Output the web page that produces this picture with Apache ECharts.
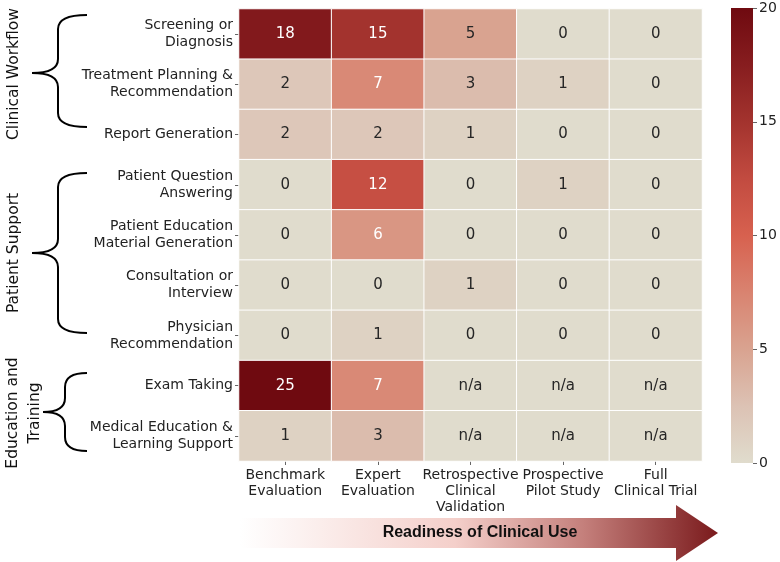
<!DOCTYPE html>
<html>
<head>
<meta charset="utf-8">
<script src="https://cdn.jsdelivr.net/npm/echarts@6/dist/echarts.min.js"></script>
<style>
  html, body { margin: 0; padding: 0; background: #fff; }
  #main { width: 780px; height: 562px; }
</style>
</head>
<body>
<div id="main"></div>
<script>
// rows top to bottom, columns left to right
var tasks = ['Screening or\nDiagnosis', 'Treatment Planning &\nRecommendation', 'Report Generation',
    'Patient Question\nAnswering', 'Patient Education\nMaterial Generation', 'Consultation or\nInterview',
    'Physician\nRecommendation', 'Exam Taking', 'Medical Education &\nLearning Support'];
var stages = ['Benchmark\nEvaluation', 'Expert\nEvaluation', 'Retrospective\nClinical\nValidation',
    'Prospective\nPilot Study', 'Full\nClinical Trial'];

// counts per stage (null = n/a)
var benchmark = [18, 2, 2, 0, 0, 0, 0, 25, 1];
var expert = [15, 7, 2, 12, 6, 0, 1, 7, 3];
var retrospective = [5, 3, 1, 0, 0, 1, 0, null, null];
var prospective = [0, 1, 0, 1, 0, 0, 0, null, null];
var fullTrial = [0, 0, 0, 0, 0, 0, 0, null, null];

var colorbarTicks = [0, 5, 10, 15, 20];

var columns = [benchmark, expert, retrospective, prospective, fullTrial];
var palette = ['#e0dccd', '#dcc2b4', '#d9a390', '#d98370', '#d7614f', '#c24b40', '#a3332e', '#871d1f', '#6f0a10'];

var cells = [];
columns.forEach(function (col, x) {
    col.forEach(function (v, y) {
        var item = { value: [x, y, v === null ? 0 : v], na: v === null };
        // white text on the darker cells
        if (v !== null && v > 5.5) item.label = { color: '#ffffff' };
        cells.push(item);
    });
});

var myChart = echarts.init(document.getElementById('main'));

// curly brace built from curves and lines
function brace(xa, xb, xt, y1, ym, y2) {
    var r = 14;
    var st = { stroke: '#000', lineWidth: 2, fill: null };
    function q(x1, yy1, cx, cy, x2, yy2) {
        return { type: 'bezierCurve', shape: { x1: x1, y1: yy1, cpx1: cx, cpy1: cy, x2: x2, y2: yy2 }, style: st };
    }
    function l(x1, yy1, x2, yy2) {
        return { type: 'line', shape: { x1: x1, y1: yy1, x2: x2, y2: yy2 }, style: st };
    }
    return {
        type: 'group',
        children: [
            q(xa, y1, xb, y1, xb, y1 + r),
            l(xb, y1 + r, xb, ym - r),
            q(xb, ym - r, xb, ym, xt, ym),
            q(xt, ym, xb, ym, xb, ym + r),
            l(xb, ym + r, xb, y2 - r),
            q(xb, y2 - r, xb, y2, xa, y2)
        ]
    };
}

function linear(x2, y2, stops) {
    return { type: 'linear', x: 0, y: 0, x2: x2, y2: y2, colorStops: stops };
}

var fontFam = 'DejaVu Sans';
var gradStops = [];
palette.forEach(function (c, i) {
    gradStops.push({ offset: 1 - i / (palette.length - 1), color: c });
});

var option = {
    backgroundColor: '#ffffff',
    animation: false,
    grid: [
        { left: 239, right: 78, top: 9, bottom: 101 },
        { left: 731, width: 22, top: 8, bottom: 99 }
    ],
    xAxis: [{
        type: 'category',
        data: stages,
        gridIndex: 0,
        axisLine: { show: false },
        axisTick: { show: true, alignWithLabel: true, length: 4, lineStyle: { color: '#666' } },
        axisLabel: { color: '#222', fontSize: 14, fontFamily: fontFam, lineHeight: 16, margin: 6, interval: 0 },
        splitLine: { show: false }
    }, {
        type: 'category',
        data: ['c'],
        gridIndex: 1,
        show: false
    }],
    yAxis: [{
        type: 'category',
        data: tasks,
        inverse: true,
        gridIndex: 0,
        axisLine: { show: false },
        axisTick: { show: true, alignWithLabel: true, length: 4, lineStyle: { color: '#666' } },
        axisLabel: { color: '#222', fontSize: 14, fontFamily: fontFam, lineHeight: 17, margin: 6, interval: 0 },
        splitLine: { show: false }
    }, {
        type: 'value',
        gridIndex: 1,
        min: 0,
        max: 20,
        interval: 5,
        position: 'right',
        axisLine: { show: false },
        axisTick: { show: true, length: 4, lineStyle: { color: '#666' } },
        axisLabel: { color: '#222', fontSize: 14, fontFamily: fontFam, margin: 6 },
        splitLine: { show: false }
    }],
    visualMap: {
        show: false,
        type: 'continuous',
        seriesIndex: 0,
        dimension: 2,
        min: 0,
        max: 20,
        inRange: { color: palette }
    },
    series: [{
        type: 'heatmap',
        xAxisIndex: 0,
        yAxisIndex: 0,
        data: cells,
        itemStyle: { borderColor: '#ffffff', borderWidth: 1 },
        label: {
            show: true,
            fontSize: 15,
            fontFamily: fontFam,
            formatter: function (p) { return p.data.na ? 'n/a' : String(p.data.value[2]); },
            color: '#262626'
        },
        emphasis: { disabled: true }
    }, {
        type: 'bar',
        xAxisIndex: 1,
        yAxisIndex: 1,
        data: [20],
        barWidth: '100%',
        silent: true,
        itemStyle: { color: linear(0, 1, gradStops) }
    }],
    graphic: [
        brace(87, 58, 32, 15, 73, 127),
        brace(87, 58, 32, 173, 253, 333),
        brace(87, 65, 43, 373, 412, 451),
        { type: 'text', x: 14, y: 74, rotation: Math.PI / 2, style: { text: 'Clinical Workflow', font: '15.5px "DejaVu Sans"', fill: '#111', align: 'center', verticalAlign: 'middle' } },
        { type: 'text', x: 14, y: 253, rotation: Math.PI / 2, style: { text: 'Patient Support', font: '15.5px "DejaVu Sans"', fill: '#111', align: 'center', verticalAlign: 'middle' } },
        { type: 'text', x: 24, y: 413, rotation: Math.PI / 2, style: { text: 'Education and\nTraining', font: '15.5px "DejaVu Sans"', lineHeight: 22, fill: '#111', align: 'center', verticalAlign: 'middle' } },
        {
            type: 'polygon',
            shape: { points: [[240, 518], [676, 518], [676, 505], [718, 533], [676, 561], [676, 548], [240, 548]] },
            style: {
                fill: linear(1, 0, [
                    { offset: 0, color: '#ffffff' },
                    { offset: 0.45, color: '#f4cfca' },
                    { offset: 0.72, color: '#c47f7b' },
                    { offset: 1, color: '#7a1a1c' }
                ])
            }
        },
        { type: 'text', x: 480, y: 533, style: { text: 'Readiness of Clinical Use', font: 'bold 16px "Liberation Sans"', fill: '#111', align: 'center', verticalAlign: 'middle' } }
    ]
};

myChart.setOption(option);
</script>
</body>
</html>
